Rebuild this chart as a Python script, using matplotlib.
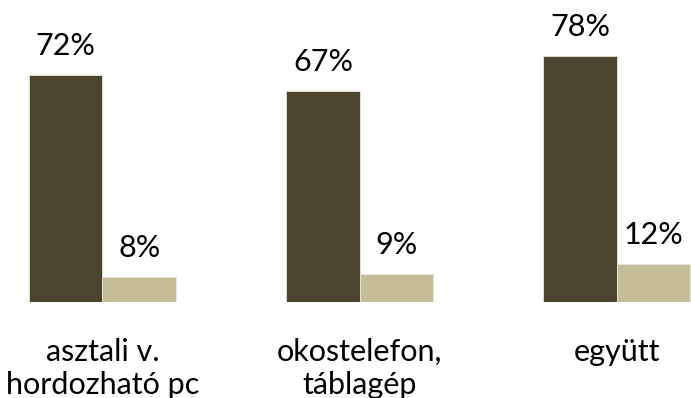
import matplotlib.pyplot as plt
import numpy as np

# adatok
kategoriak = ['asztali v.\nhordozható pc', 'okostelefon,\ntáblagép', 'együtt']
sotet = [72, 67, 78]
vilagos = [8, 9, 12]

szin_sotet = '#4B4530'
szin_vilagos = '#C5BD98'

plt.rcParams['font.family'] = ['Lato', 'DejaVu Sans']

fig = plt.figure(figsize=(6.91, 3.98), dpi=100)
ax = fig.add_axes([0, 96 / 398, 1, 302 / 398])

x = np.arange(len(kategoriak))
w = 0.2857

b1 = ax.bar(x - w / 2, sotet, w, color=szin_sotet, edgecolor='#E8E5DA', linewidth=0.6)
b2 = ax.bar(x + w / 2, vilagos, w, color=szin_vilagos, edgecolor='#E8E5DA', linewidth=0.6)

# értékcímkék a oszlopok fölött
for bars, vals in [(b1, sotet), (b2, vilagos)]:
    for r, v in zip(bars, vals):
        ax.annotate(f'{v}%', (r.get_x() + r.get_width() / 2, v),
                    xytext=(0, 14.5), textcoords='offset points',
                    ha='center', va='baseline', fontsize=22, color='black')

# kategórianevek
for i, k in enumerate(kategoriak):
    ax.annotate(k, (i, 0), xycoords=('data', 'axes fraction'),
                xytext=(0, -26), textcoords='offset points',
                ha='center', va='top', fontsize=22, linespacing=1.2,
                color='black')

ax.set_xlim(-0.3984, 2.2877)
ax.set_ylim(0, 302 / 3.15)
ax.axis('off')

fig.savefig('out.png', dpi=100)
